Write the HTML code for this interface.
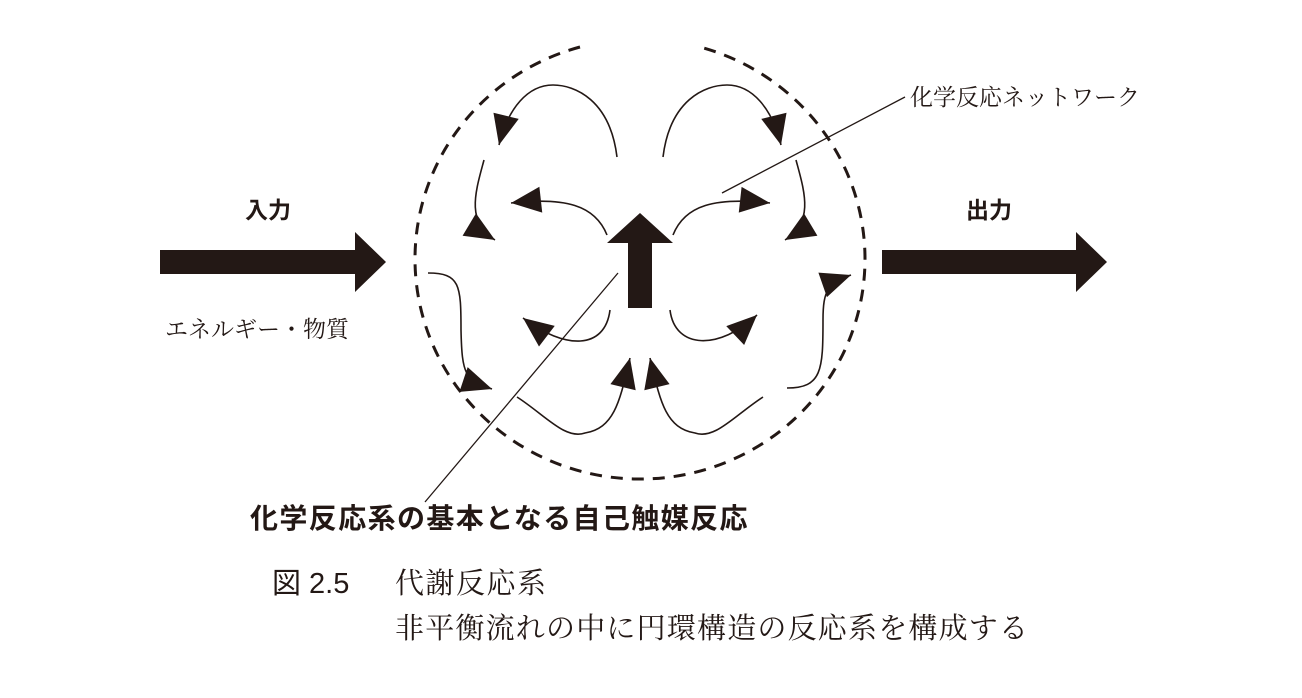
<!DOCTYPE html>
<html><head><meta charset="utf-8"><style>
html,body{margin:0;padding:0;background:#fff;}
body{width:1302px;height:698px;position:relative;overflow:hidden;}
.t{position:absolute;white-space:nowrap;line-height:1;color:#231815;}
.b{font-family:"Liberation Sans","Noto Sans CJK JP",sans-serif;font-weight:bold;}
.s{font-family:"Liberation Serif","Noto Serif CJK SC",serif;}
</style></head><body>
<svg width="1302" height="698" style="position:absolute;left:0;top:0">
<defs><marker id="a" viewBox="0 0 10 10" refX="10" refY="5" markerWidth="10" markerHeight="10" markerUnits="userSpaceOnUse" orient="auto" style="overflow:visible"><path d="M-20,-8 L10,5 L-20,18 z" fill="#231815"/></marker></defs>
<g fill="none" stroke="#231815">
<path d="M580,47 A225,220 0 1 0 700,47" stroke-width="3" stroke-dasharray="12,9"/>
<g stroke-width="1.6" marker-end="url(#a)">
<path d="M617,157 C610,100 575,85 553,85 C528,85 508,108 499,145"/>
<path d="M663,157 C670,100 705,85 727,85 C752,85 772,108 781,145"/>
<path d="M484,160 C476,190 465,222 495,240"/>
<path d="M796,160 C804,190 815,222 785,240"/>
<path d="M607,235 C595,205 565,197 511,203"/>
<path d="M673,235 C685,205 715,197 770,203"/>
<path d="M610,310 C605,350 565,350 523,318"/>
<path d="M670,310 C675,350 720,350 757,315"/>
<path d="M428,273 C460,273 461,285 461,330 C462,375 465,380 492,389"/>
<path d="M787,388 C822,388 823,370 823,320 C823,290 828,283 851,275"/>
<path d="M517,397 C545,415 565,440 585,433 C615,428 620,400 630,358"/>
<path d="M763,397 C735,415 715,440 695,433 C665,428 660,400 650,358"/>
</g>
<path d="M722,193 L905,97" stroke-width="1.3"/>
<path d="M618,273 L425,502" stroke-width="1.3"/>
</g>
<g fill="#231815">
<path d="M640,213 L673,243 L652,243 L652,308 L628,308 L628,243 L607,243 z"/>
<path d="M160,250 L355,250 L355,232 L386,262 L355,292 L355,274 L160,274 z"/>
<path d="M882,250 L1076,250 L1076,232 L1107,262 L1076,292 L1076,274 L882,274 z"/>
</g>
</svg>
<div class="t b" style="left:245px;top:199px;font-size:23px">入力</div>
<div class="t b" style="left:966px;top:199px;font-size:23px">出力</div>
<div class="t s" style="left:165px;top:318px;font-size:23px">エネルギー・物質</div>
<div class="t s" style="left:910px;top:86px;font-size:23px">化学反応ネットワーク</div>
<div class="t b" style="left:250px;top:505px;font-size:28px;letter-spacing:1.4px">化学反応系の基本となる自己触媒反応</div>
<div class="t" style="left:272px;top:570px;font-size:29px;font-family:'Liberation Sans','Noto Sans CJK JP',sans-serif">図 2.5</div>
<div class="t s" style="left:395px;top:570px;font-size:29px;letter-spacing:1.5px">代謝反応系</div>
<div class="t s" style="left:395px;top:615px;font-size:29px;letter-spacing:1.2px">非平衡流れの中に円環構造の反応系を構成する</div>
</body></html>
